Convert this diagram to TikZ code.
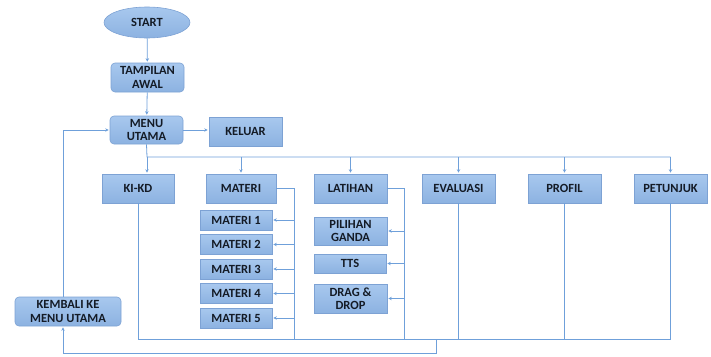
\documentclass[tikz,border=0pt]{standalone}
\usepackage{fontspec}
\setmainfont{Carlito}
\usetikzlibrary{arrows.meta,shapes.geometric}
\definecolor{ftop}{HTML}{A8C8EE}
\definecolor{fbot}{HTML}{8CB2E1}
\definecolor{bdr}{HTML}{7DA2D4}
\definecolor{ln}{HTML}{6FA0DA}
\definecolor{txt}{HTML}{141B26}
\tikzset{
  box/.style={draw=bdr, line width=0.6pt, top color=ftop, bottom color=fbot, minimum width=73pt, minimum height=29pt, inner sep=1pt, align=center, font=\bfseries\fontsize{12.5}{13.5}\selectfont, text=txt},
  rbox/.style={box, rounded corners=4pt},
  line/.style={draw=ln, line width=0.8pt},
  arr/.style={line, -{Stealth[length=3.5pt,width=3.5pt]}, shorten >=1pt}
}
\begin{document}
\begin{tikzpicture}[x=1pt,y=-1pt]
\useasboundingbox (0,0) rectangle (711,356);
% nodes
\node[box, ellipse, minimum width=86pt, minimum height=31pt] (start) at (147,22.5) {START};
\node[rbox] (tampilan) at (147.5,77.5) {TAMPILAN\\AWAL};
\node[rbox, minimum height=28pt] (menu) at (146.5,130) {MENU\\UTAMA};
\node[box] (keluar) at (245.5,131.5) {KELUAR};
\node[box, minimum width=72pt] (kikd) at (138,188.5) {KI-KD};
\node[box, minimum width=70pt] (materi) at (241,188.5) {MATERI};
\node[box] (latihan) at (350.5,188.5) {LATIHAN};
\node[box] (evaluasi) at (458.5,188.5) {EVALUASI};
\node[box] (profil) at (564.5,188.5) {PROFIL};
\node[box] (petunjuk) at (670.5,188.5) {PETUNJUK};
\node[box, minimum width=72pt, minimum height=20pt] (m1) at (236,220) {MATERI 1};
\node[box, minimum width=72pt, minimum height=20pt] (m2) at (236,244.5) {MATERI 2};
\node[box, minimum width=72pt, minimum height=20pt] (m3) at (236,269) {MATERI 3};
\node[box, minimum width=72pt, minimum height=20pt] (m4) at (236,293.5) {MATERI 4};
\node[box, minimum width=72pt, minimum height=20pt] (m5) at (236,318) {MATERI 5};
\node[box, minimum height=28pt] (pg) at (350.5,231) {PILIHAN\\GANDA};
\node[box, minimum width=72pt, minimum height=19pt] (tts) at (350,263.5) {TTS};
\node[box] (dd) at (350.5,298.5) {DRAG \&\\DROP};
\node[rbox, minimum width=106pt] (kembali) at (68,311.5) {KEMBALI KE\\MENU UTAMA};
% coordinates
\coordinate (b0) at (147,157);
\coordinate (mr) at (294,188.5);
\coordinate (lr) at (404,188.5);
\coordinate (bot) at (436,339);
\coordinate (ret) at (436,353);
\coordinate (lx) at (63,130);
% connectors
\draw[arr] (start) -- (tampilan);
\draw[arr] (tampilan) -- (menu);
\draw[arr] (menu.east) -- (menu.east -| keluar.west);
\draw[line] (menu.south) -- (b0) -- (petunjuk.north |- b0);
\draw[arr] (b0) -- (b0 |- kikd.north);
\draw[arr] (materi.north |- b0) -- (materi.north);
\draw[arr] (latihan.north |- b0) -- (latihan.north);
\draw[arr] (evaluasi.north |- b0) -- (evaluasi.north);
\draw[arr] (profil.north |- b0) -- (profil.north);
\draw[arr] (petunjuk.north |- b0) -- (petunjuk.north);
% materi branch
\draw[line] (materi.east) -- (mr) -- (mr |- bot);
\foreach \m in {m1,m2,m3,m4,m5} \draw[arr] (\m.east -| mr) -- (\m.east);
% latihan branch
\draw[line] (latihan.east) -- (lr) -- (lr |- bot);
\foreach \m in {pg,tts,dd} \draw[arr] (\m.east -| lr) -- (\m.east);
% collect line
\draw[line] (kikd.south) -- (kikd.south |- bot) -- (petunjuk.south |- bot) -- (petunjuk.south);
\draw[line] (evaluasi.south) -- (evaluasi.south |- bot);
\draw[line] (profil.south) -- (profil.south |- bot);
% return
\draw[arr] (bot) -- (ret) -- (ret -| lx) -- (kembali.south -| lx);
\draw[arr] (kembali.north -| lx) -- (lx) -- (lx -| menu.west);
\end{tikzpicture}
\end{document}
